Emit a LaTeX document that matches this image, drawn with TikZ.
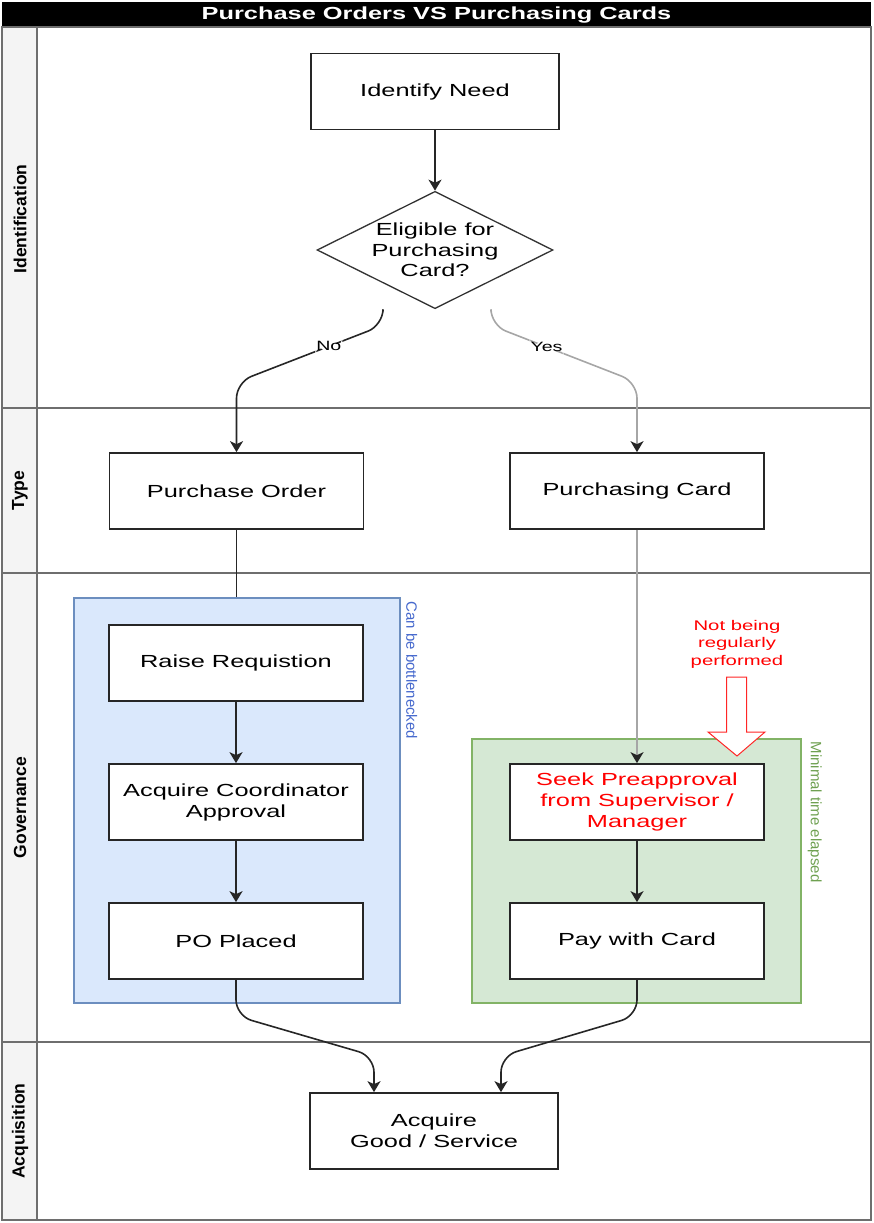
\documentclass[tikz,border=0pt]{standalone}
\usepackage{fontspec}
\setmainfont{Liberation Sans}[FakeStretch=1.45]
\newfontfamily\lanefont{Liberation Sans}
\usepackage{xcolor}
\definecolor{laneline}{RGB}{110,110,110}
\definecolor{lanefill}{RGB}{244,244,244}
\definecolor{poblue}{RGB}{218,232,252}
\definecolor{poblueline}{RGB}{108,142,191}
\definecolor{potext}{RGB}{70,105,205}
\definecolor{pcgreen}{RGB}{213,232,212}
\definecolor{pcgreenline}{RGB}{130,179,102}
\definecolor{pctext}{RGB}{110,160,80}
\usepackage{tikz}
\usetikzlibrary{positioning,shapes.geometric,arrows.meta,calc}

\begin{document}
\begin{tikzpicture}[x=1pt, y=-1pt]
        \tikzset{
          procbox/.style={rectangle, draw=black!85, line width=1.7pt, fill=white,
                          minimum width=254, minimum height=76, align=center,
                          inner sep=2pt, font=\fontsize{17.5}{21}\selectfont},
          decision/.style={diamond, draw=black!80, line width=1.3pt, fill=white,
                          minimum width=236, minimum height=114, aspect=2,
                          inner sep=0pt, align=center, font=\fontsize{17.5}{20.5}\selectfont},
          group/.style={rectangle, line width=1.3pt, inner sep=0pt},
          lanelabel/.style={rotate=90, font=\lanefont\bfseries\fontsize{17.5}{20}\selectfont},
          grouplabel/.style={rotate=-90, anchor=west, inner sep=0pt,
                          font=\lanefont\fontsize{15}{18}\selectfont},
          lane/.style={draw=laneline, line width=1.5pt},
          link/.style={draw=black!85, line width=1.6pt},
          flow/.style={link, -{Stealth[length=11pt,width=13pt,inset=3pt,color=black!85]}},
          grayflow/.style={flow, draw=black!35},
          branch/.style={fill=white, inner sep=1pt, font=\fontsize{13.5}{16}\selectfont}
        }
        \useasboundingbox (0,0) rectangle (873,1223);
        % Title bar
        \node[fill=black, text=white, minimum width=869, minimum height=25, inner sep=0pt,
              font=\bfseries\fontsize{17.5}{20}\selectfont] (title) at (436.5,15)
              {Purchase Orders VS Purchasing Cards};
        % Swimlanes
        \fill[lanefill] (2,27) rectangle (37,1220);
        \draw[lane] (2,27) rectangle (871,1220);
        \draw[lane] (37,27) -- (37,1220);
        \foreach \y in {408,573,1042} {
          \draw[lane] (2,\y) -- (871,\y);
        }
        \foreach \yc/\lname in {219/Identification, 490.5/Type, 807.5/Governance, 1131/Acquisition} {
          \node[lanelabel] (lane-\lname) at (20,\yc) {\lname};
        }
        % Groups
        \node[group, fill=poblue, draw=poblueline, minimum width=326, minimum height=405]
              (bneck) at (237,800.5) {};
        \node[group, fill=pcgreen, draw=pcgreenline, minimum width=329, minimum height=264]
              (quick) at (636.5,871) {};
        \node[grouplabel, text=potext] (bneck-lbl) at ([xshift=11pt,yshift=-4pt]bneck.north east)
              {Can be bottlenecked};
        \node[grouplabel, text=pctext] (quick-lbl) at ([xshift=13pt,yshift=-3pt]quick.north east)
              {Minimal time elapsed};
        % Steps
        \node[procbox, minimum width=248] (need) at (435,91.5) {Identify Need};
        \node[decision] (elig) at (435,250) {Eligible for\\Purchasing\\Card?};
        \node[procbox] (po) at (236.5,491) {Purchase Order};
        \node[procbox] (pcard) at (637,491) {Purchasing Card};
        \node[procbox] (req) at (236,663) {Raise Requistion};
        \node[procbox] (coord) at (236,802) {Acquire Coordinator\\Approval};
        \node[procbox] (placed) at (236,941) {PO Placed};
        \node[procbox, text=red] (preapp) at (637,802) {Seek Preapproval\\from Supervisor /\\Manager};
        \node[procbox] (pay) at (637,941) {Pay with Card};
        \node[procbox, minimum width=248] (acq) at (434,1131) {Acquire\\Good / Service};
        % Note on preapproval
        \node[text=red, align=center, font=\fontsize{14}{17.5}\selectfont] (note) at (737,644)
              {Not being\\regularly\\performed};
        \draw[draw=red!85, fill=white, line width=1pt]
              (726.5,677) -- (746.5,677) -- (746.5,732) -- (765,732) -- (737,756)
              -- (708,732) -- (726.5,732) -- cycle;
        % Connections
        \draw[flow] (need) -- (elig);
        \draw[flow, rounded corners=16pt] ([xshift=-52pt,yshift=-2pt]elig.south) -- ++(0,14)
              -- node[branch, pos=0.37] {No} ([yshift=70pt]po.north) -- (po.north);
        \draw[grayflow, rounded corners=16pt] ([xshift=56pt,yshift=-2pt]elig.south) -- ++(0,14)
              -- node[branch, pos=0.38] {Yes} ([yshift=70pt]pcard.north) -- (pcard.north);
        \draw[link] (po.south) -- (po.south |- bneck.north);
        \draw[flow] (req) -- (coord);
        \draw[flow] (coord) -- (placed);
        \draw[grayflow] (pcard) -- (preapp);
        \draw[flow] (preapp) -- (pay);
        \draw[flow, rounded corners=16pt] (placed.south) -- ++(0,36)
              -- ([xshift=-60pt,yshift=36pt]acq.north) -- ([xshift=-60pt]acq.north);
        \draw[flow, rounded corners=16pt] (pay.south) -- ++(0,36)
              -- ([xshift=67pt,yshift=36pt]acq.north) -- ([xshift=67pt]acq.north);
\end{tikzpicture}
\end{document}
